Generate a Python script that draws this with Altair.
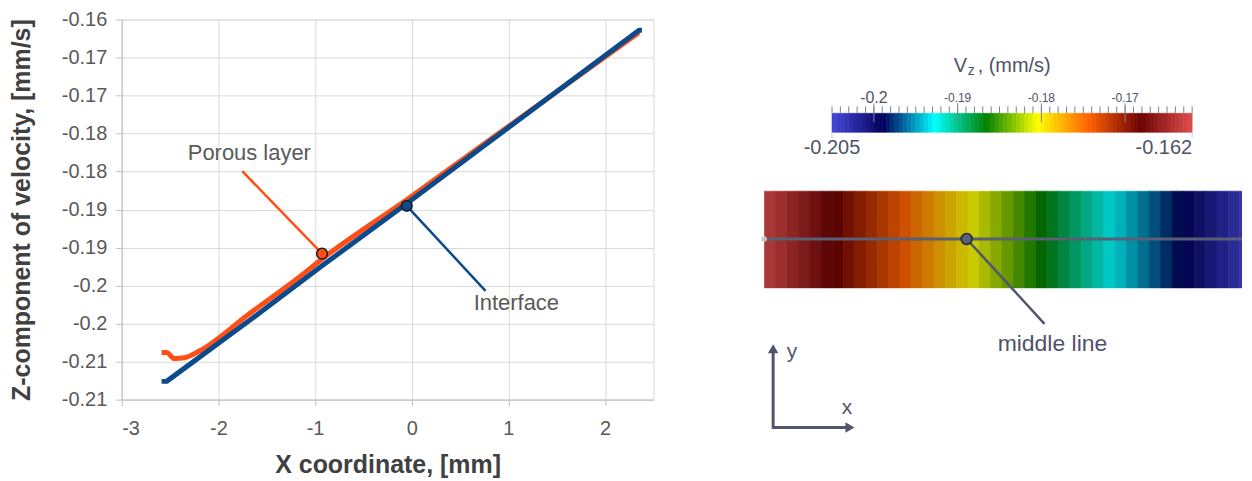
import altair as alt
import numpy as np
import pandas as pd

FONT = "Liberation Sans"
ORANGE = "#ff4f17"
BLUE = "#0b4a8b"
SLATE = "#4e5369"

# ---------------- left plot: values ----------------
porous_x = [-2.588, -2.536, -2.454, -2.351, -2.196, -1.680, -1.165, -0.928, -0.052, 0.897, 2.351]
porous_vz = [-0.2038, -0.2038, -0.2046, -0.2045, -0.2036, -0.1987, -0.1939, -0.1915, -0.1837, -0.1750, -0.1617]
interface_x = [-2.588, -2.536, -1.680, -0.928, -0.052, 0.897, 2.351, 2.381]
interface_vz = [-0.2076, -0.2076, -0.1996, -0.1924, -0.1842, -0.1752, -0.1614, -0.1614]

x_ticks = [-3, -2, -1, 0, 1, 2]
y_tick_values = [-0.16, -0.165, -0.17, -0.175, -0.18, -0.185, -0.19, -0.195, -0.2, -0.205, -0.21]
y_tick_labels = ["-0.16", "-0.17", "-0.17", "-0.18", "-0.18", "-0.19", "-0.19", "-0.2", "-0.2", "-0.21", "-0.21"]

# annotations (marker, leader end, label position)
ann_series = ["Porous layer", "Interface"]
ann_marker_x = [-0.928, -0.052]
ann_marker_vz = [-0.1908, -0.1845]
ann_leader_x = [-1.753, 0.763]
ann_leader_vz = [-0.17995, -0.1957]
ann_label_x = [-1.68, 1.082]
ann_label_vz = [-0.1776, -0.1973]

# ---------------- right panel values ----------------
cmap_domain = [-0.205, -0.198857, -0.192714, -0.186571, -0.180429, -0.174286, -0.168143, -0.162]
cmap_colors = ["#4747db", "#00005c", "#00ffff", "#008000", "#ffff00", "#ff6100", "#6b0000", "#e04d4d"]
cbar_min, cbar_max = -0.205, -0.162
cbar_major = [-0.2, -0.19, -0.18, -0.17]
cbar_major_labels = ["-0.2", "-0.19", "-0.18", "-0.17"]
cbar_major_sizes = [16, 12, 12, 12]
cbar_end_labels = ["-0.205", "-0.162"]
field_vz = [-0.1625, -0.1635, -0.1645, -0.1655, -0.1665, -0.1675, -0.1685, -0.1695, -0.1705,
            -0.1715, -0.1725, -0.1735, -0.1745, -0.1755, -0.1765, -0.1775, -0.1785, -0.1795,
            -0.1805, -0.1815, -0.1825, -0.1835, -0.1845, -0.1855, -0.1865, -0.1875, -0.1885,
            -0.1895, -0.1905, -0.1915, -0.1925, -0.1935, -0.1945, -0.1955, -0.1965, -0.1975,
            -0.1985, -0.1995, -0.2005, -0.2015, -0.2025, -0.2035, -0.2045]

PANEL_W = 479

# ====================== LEFT CHART ======================
porous_df = pd.DataFrame({"x": porous_x, "vz": porous_vz, "i": range(len(porous_x)), "s": "Porous layer"})
iface_df = pd.DataFrame({"x": interface_x, "vz": interface_vz, "i": range(len(interface_x)), "s": "Interface"})
ann_df = pd.DataFrame({"s": ann_series, "x": ann_marker_x, "vz": ann_marker_vz,
                       "x2": ann_leader_x, "vz2": ann_leader_vz,
                       "lx": ann_label_x, "lvz": ann_label_vz})

y_label_expr = " : ".join(
    f"abs(datum.value - ({v})) < 1e-6 ? '{l}'" for v, l in zip(y_tick_values, y_tick_labels)
) + " : ''"

xscale = alt.Scale(domain=[-3, 2.5], nice=False, zero=False)
yscale = alt.Scale(domain=[-0.21, -0.16], nice=False, zero=False)
xaxis = alt.Axis(values=x_ticks, labelExpr="'' + datum.value", title="X coordinate, [mm]")
yaxis = alt.Axis(values=y_tick_values, labelExpr=y_label_expr, title="Z-component of velocity, [mm/s]")
cscale_series = alt.Scale(domain=["Porous layer", "Interface"], range=[ORANGE, BLUE])


def X(f):
    return alt.X(f, type="quantitative", scale=xscale, axis=xaxis)


def Y(f):
    return alt.Y(f, type="quantitative", scale=yscale, axis=yaxis)


col = alt.Color("s:N", scale=cscale_series, legend=None)

orange_line = alt.Chart(porous_df).mark_line(strokeWidth=5, strokeJoin="round", interpolate="monotone").encode(
    x=X("x"), y=Y("vz"), order="i:Q", color=col)
blue_line = alt.Chart(iface_df).mark_line(strokeWidth=5, strokeJoin="round").encode(
    x=X("x"), y=Y("vz"), order="i:Q", color=col)
leaders = alt.Chart(ann_df).mark_rule(strokeWidth=2.5).encode(
    x=X("x"), y=Y("vz"), x2="x2:Q", y2="vz2:Q", color=col)
markers = alt.Chart(ann_df).mark_circle(size=115, opacity=1, stroke="#1a1a1a", strokeWidth=1.5).encode(
    x=X("x"), y=Y("vz"), color=col)
labels = alt.Chart(ann_df).mark_text(font=FONT, fontSize=22, color="#595959").encode(
    x=X("lx"), y=Y("lvz"), text="s:N")

left = alt.layer(orange_line, blue_line, leaders, markers, labels).properties(width=533, height=381)

# ====================== RIGHT PANEL ======================
dummy = pd.DataFrame({"k": [0]})
cscale = alt.Scale(domain=cmap_domain, range=cmap_colors, interpolate="rgb")

# colour bar (legend rendering: 0.0005-wide bands)
band_lo = np.round(np.arange(cbar_min, cbar_max - 1e-9, 0.0005), 5)
cbar_df = pd.DataFrame({"cx": band_lo, "cx2": np.minimum(band_lo + 0.0005, cbar_max), "v": band_lo + 0.00025})
minor_df = pd.DataFrame({"cx": np.round(np.arange(cbar_min, cbar_max + 1e-9, 0.001), 3)})
major_df = pd.DataFrame({"cx": cbar_major, "t": cbar_major_labels, "fs": cbar_major_sizes})
end_df = pd.DataFrame({"cx": [cbar_min, cbar_max], "t": cbar_end_labels})

cx_scale = alt.Scale(domain=[cbar_min, cbar_max], range=[68, 429], nice=False, zero=False)
CX = alt.X("cx:Q", scale=cx_scale, axis=None)

bands = alt.Chart(cbar_df).mark_rect(strokeWidth=0.6).encode(
    x=CX, x2="cx2:Q", y=alt.value(94), y2=alt.value(113),
    color=alt.Color("v:Q", scale=cscale, legend=None),
    stroke=alt.Stroke("v:Q", scale=cscale, legend=None))
minor_ticks = alt.Chart(minor_df).mark_rule(color="#7d8296", strokeWidth=1).encode(
    x=CX, y=alt.value(87), y2=alt.value(94))
major_ticks = alt.Chart(major_df).mark_rule(color="#7d8296", strokeWidth=1).encode(
    x=CX, y=alt.value(84), y2=alt.value(103))
major_labels = alt.Chart(major_df).mark_text(font=FONT, color=SLATE, baseline="middle").encode(
    x=CX, y=alt.value(79), text="t:N", size=alt.Size("fs:Q", scale=None))
end_left = alt.Chart(end_df.iloc[[0]]).mark_text(font=FONT, fontSize=20, color=SLATE, align="center").encode(
    x=CX, y=alt.value(129), text="t:N")
end_right = alt.Chart(end_df.iloc[[1]]).mark_text(font=FONT, fontSize=20, color=SLATE, align="right").encode(
    x=CX, y=alt.value(129), text="t:N")
end_ticks = alt.Chart(end_df).mark_rule(color="#c9cbe0", strokeWidth=1).encode(
    x=CX, y=alt.value(113), y2=alt.value(119))
cbar_group = alt.layer(bands, minor_ticks, major_ticks, major_labels, end_ticks, end_left, end_right)

title_v = alt.Chart(dummy).mark_text(font=FONT, fontSize=20, color=SLATE, align="left").encode(
    x=alt.value(190), y=alt.value(47), text=alt.value("V"))
title_z = alt.Chart(dummy).mark_text(font=FONT, fontSize=14, color=SLATE, align="left").encode(
    x=alt.value(204), y=alt.value(52), text=alt.value("z"))
title_rest = alt.Chart(dummy).mark_text(font=FONT, fontSize=20, color=SLATE, align="left").encode(
    x=alt.value(214), y=alt.value(47), text=alt.value(", (mm/s)"))

# field rectangle (one cell per 0.001 of Vz, viewed flipped)
field_df = pd.DataFrame({"v": field_vz})
rx_scale = alt.Scale(domain=[cbar_max, cbar_min], range=[0, 488], nice=False, zero=False, clamp=True)
cells = alt.Chart(field_df).transform_calculate(
    lo="datum.v + 0.0005", hi="datum.v - 0.0005").mark_rect(clip=True, strokeWidth=0.6).encode(
    x=alt.X("lo:Q", scale=rx_scale, axis=None), x2="hi:Q",
    y=alt.value(172), y2=alt.value(269),
    color=alt.Color("v:Q", scale=cscale, legend=None),
    stroke=alt.Stroke("v:Q", scale=cscale, legend=None))
shade = alt.Chart(dummy).mark_rect(color="black", opacity=0.2).encode(
    x=alt.value(0), x2=alt.value(PANEL_W), y=alt.value(172), y2=alt.value(269))
rect_group = alt.layer(cells, shade)

mid_line = alt.Chart(dummy).mark_rule(color="#5a5f75", strokeWidth=3).encode(
    x=alt.value(0), x2=alt.value(PANEL_W), y=alt.value(220))
end_dot = alt.Chart(dummy).mark_circle(size=30, color="#c8c8c8", opacity=1).encode(
    x=alt.value(0), y=alt.value(220))
probe_leader = alt.Chart(dummy).mark_rule(color="#50566e", strokeWidth=2.5).encode(
    x=alt.value(203), y=alt.value(220), x2=alt.value(281), y2=alt.value(305))
probe = alt.Chart(dummy).mark_circle(size=120, color="#5a607a", opacity=1, stroke="#23273a", strokeWidth=1.5).encode(
    x=alt.value(203), y=alt.value(220))
mid_text = alt.Chart(dummy).mark_text(font=FONT, fontSize=23, color=SLATE).encode(
    x=alt.value(289), y=alt.value(325), text=alt.value("middle line"))

# small coordinate-axes icon
ax_col = "#50566e"
v_arrow = alt.Chart(dummy).mark_rule(color=ax_col, strokeWidth=3).encode(
    x=alt.value(9), y=alt.value(332), y2=alt.value(410))
h_arrow = alt.Chart(dummy).mark_rule(color=ax_col, strokeWidth=3).encode(
    x=alt.value(8), x2=alt.value(82), y=alt.value(409))
v_head = alt.Chart(dummy).mark_point(shape="triangle-up", filled=True, size=110, color=ax_col, opacity=1).encode(
    x=alt.value(9), y=alt.value(330))
h_head = alt.Chart(dummy).mark_point(shape="triangle-right", filled=True, size=110, color=ax_col, opacity=1).encode(
    x=alt.value(86), y=alt.value(409))
y_lbl = alt.Chart(dummy).mark_text(font=FONT, fontSize=21, color=ax_col).encode(
    x=alt.value(28), y=alt.value(333), text=alt.value("y"))
x_lbl = alt.Chart(dummy).mark_text(font=FONT, fontSize=21, color=ax_col).encode(
    x=alt.value(83), y=alt.value(389), text=alt.value("x"))

right = alt.layer(
    cbar_group, title_v, title_z, title_rest, rect_group, mid_line, end_dot,
    probe_leader, probe, mid_text, v_arrow, h_arrow, v_head, h_head, y_lbl, x_lbl,
).resolve_scale(x="independent").properties(
    width=PANEL_W, height=425, view=alt.ViewBackground(stroke="transparent"))

chart = alt.hconcat(left, right, spacing=106).properties(
    padding={"left": 0, "top": 0, "right": 0, "bottom": 0}
).configure_view(stroke="#d9d9d9").configure_axis(
    labelFont=FONT, labelFontSize=20, labelColor="#595959",
    titleFont=FONT, titleFontSize=25, titleFontWeight="bold", titleColor="#404040",
    gridColor="#d9d9d9", domainColor="#bfbfbf", tickColor="#bfbfbf", tickSize=6,
).configure_axisX(labelPadding=13, titlePadding=14).configure_axisY(labelPadding=9, titlePadding=27)

chart.save("out.html", embed_options={"renderer": "svg", "actions": False})
